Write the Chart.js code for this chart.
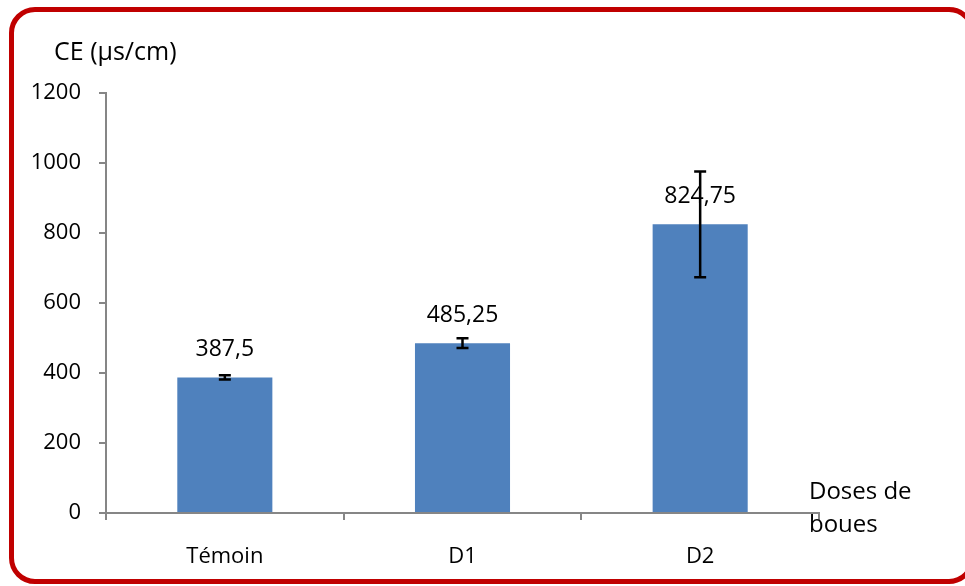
<!DOCTYPE html>
<html>
<head>
<meta charset="utf-8">
<script src="https://cdn.jsdelivr.net/npm/chart.js@4"></script>
<style>
  html, body { margin: 0; padding: 0; background: #fff; overflow: hidden; }
  #wrap { position: relative; width: 965px; height: 586px; overflow: hidden; }
  #frame {
    position: absolute; left: 9px; top: 7px; width: 966px; height: 577px;
    box-sizing: border-box; border: 5px solid #c00000; border-radius: 26px;
  }
  canvas { position: absolute; left: 0; top: 0; }
</style>
</head>
<body>
<div id="wrap">
  <div id="frame"></div>
  <canvas id="chart" width="965" height="586"></canvas>
</div>
<script>
const categories = ["Témoin", "D1", "D2"];
const values = [387.5, 485.25, 824.75];
const errors = [6, 14, 151];
const valueLabels = ["387,5", "485,25", "824,75"];
const yTicks = [0, 200, 400, 600, 800, 1000, 1200];

const FONT = "'Open Sans', 'Liberation Sans', sans-serif";
const axisGrey = "#868686";

// barres d'erreur + étiquettes de valeurs + titres d'axes
const extras = {
  id: "extras",
  afterDatasetsDraw(chart) {
    const ctx = chart.ctx;
    const y = chart.scales.y;
    const meta = chart.getDatasetMeta(0);
    ctx.save();
    ctx.fillStyle = "#000";
    ctx.font = "23px " + FONT;
    ctx.textAlign = "center";
    ctx.textBaseline = "middle";
    meta.data.forEach((bar, i) => {
      ctx.fillText(valueLabels[i], bar.x, bar.y - 28);
    });
    ctx.strokeStyle = "#000";
    ctx.lineWidth = 2.5;
    meta.data.forEach((bar, i) => {
      const top = y.getPixelForValue(values[i] + errors[i]);
      const bot = y.getPixelForValue(values[i] - errors[i]);
      ctx.beginPath();
      ctx.moveTo(bar.x, top); ctx.lineTo(bar.x, bot);
      ctx.moveTo(bar.x - 6, top); ctx.lineTo(bar.x + 6, top);
      ctx.moveTo(bar.x - 6, bot); ctx.lineTo(bar.x + 6, bot);
      ctx.stroke();
    });
    ctx.textAlign = "left";
    ctx.font = "25px " + FONT;
    ctx.fillText("CE (µs/cm)", 54, 53);
    ctx.font = "24px " + FONT;
    ctx.fillText("Doses de", 809, 492);
    ctx.fillText("boues", 809, 525);
    ctx.restore();
  }
};

new Chart(document.getElementById("chart"), {
  type: "bar",
  data: {
    labels: categories,
    datasets: [{
      data: values,
      backgroundColor: "#4f81bd",
      borderWidth: 0,
      categoryPercentage: 0.8,
      barPercentage: 0.5
    }]
  },
  options: {
    responsive: false,
    animation: false,
    layout: { padding: { left: 0, right: 146, top: 93, bottom: 0 } },
    plugins: { legend: { display: false }, tooltip: { enabled: false } },
    scales: {
      y: {
        min: 0, max: 1200,
        afterFit(s) { s.width = 106; },
        afterBuildTicks(s) { s.ticks = yTicks.map(v => ({ value: v })); },
        border: { color: axisGrey, width: 2 },
        grid: { drawOnChartArea: false, drawTicks: true, tickLength: 7, color: axisGrey, lineWidth: 2 },
        ticks: { color: "#000", padding: 18, font: { size: 22, family: FONT }, callback: v => String(v) }
      },
      x: {
        afterFit(s) { s.height = 73; },
        border: { color: axisGrey, width: 2 },
        grid: { offset: true, drawOnChartArea: false, drawTicks: true, tickLength: 7, color: axisGrey, lineWidth: 2 },
        ticks: { color: "#000", padding: 24, font: { size: 22, family: FONT } }
      }
    }
  },
  plugins: [extras]
});
</script>
</body>
</html>
